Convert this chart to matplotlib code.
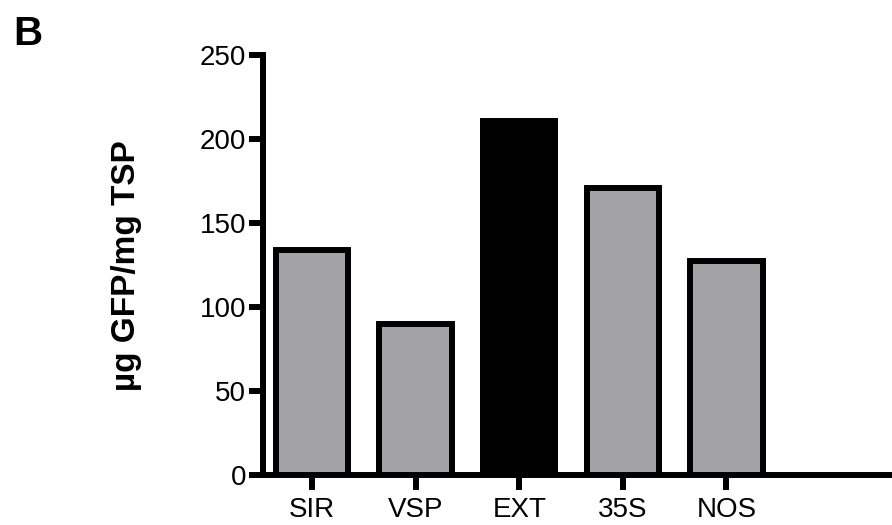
import matplotlib
matplotlib.use("Agg")
import matplotlib.pyplot as plt

categories = ["SIR", "VSP", "EXT", "35S", "NOS"]
values = [134, 89.7, 210.7, 170.6, 127.2]
fill_colors = ["#a3a3a7", "#a3a3a7", "#000000", "#a3a3a7", "#a3a3a7"]
y_ticks = [0, 50, 100, 150, 200, 250]

plt.rcParams["font.family"] = ["Liberation Sans", "DejaVu Sans"]

W, H = 892, 525
fig = plt.figure(figsize=(W / 100, H / 100), dpi=100)
ax = fig.add_axes([263 / W, (H - 475) / H, 1 - 263 / W, 420 / H])

x = list(range(len(categories)))
ax.bar(x, values, width=0.70, color=fill_colors, edgecolor="black",
       linewidth=4.3, zorder=3)

ax.set_ylim(0, 250)
ax.set_xlim(-0.475, 5.6)
ax.set_yticks(y_ticks)
ax.set_yticklabels([str(t) for t in y_ticks])
ax.set_xticks(x)
ax.set_xticklabels(categories)

for side in ("top", "right"):
    ax.spines[side].set_visible(False)
for side in ("left", "bottom"):
    ax.spines[side].set_linewidth(4.3)
    ax.spines[side].set_capstyle("projecting")

ax.tick_params(axis="y", length=10, width=4.3, labelsize=20, pad=2)
ax.tick_params(axis="x", length=11, width=4.3, labelsize=20, pad=5)

fig.text(127 / W, 1 - 265.5 / H, "µg GFP/mg TSP", fontsize=24,
         fontweight="bold", rotation=90, ha="center", va="center")

fig.text(13 / W, 1 - 45 / H, "B", fontsize=29, fontweight="bold",
         ha="left", va="baseline")

fig.savefig("out.png", dpi=100)
